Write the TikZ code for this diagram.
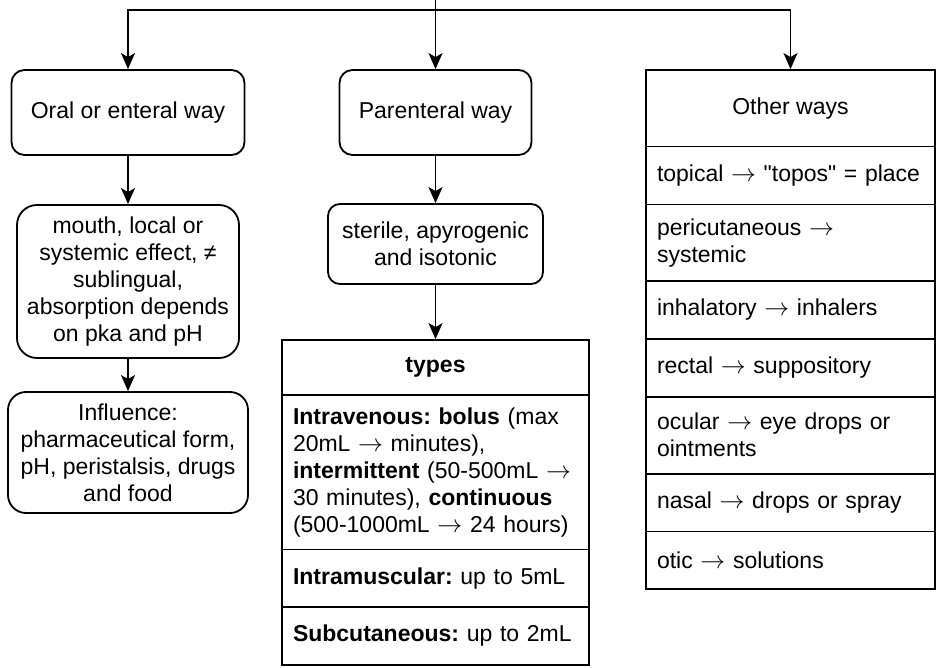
\documentclass[tikz,border=0pt]{standalone}
\usepackage{fontspec}
\setmainfont{Liberation Sans}
\newfontfamily\plainsans{Liberation Sans}
\usetikzlibrary{arrows.meta}
\newcommand{\myarr}{\ensuremath{\rightarrow}}
\tikzset{
  base/.style={draw=black, line width=1.8pt, font=\fontsize{23}{27}\selectfont\frenchspacing, inner sep=0pt},
  rbox/.style={base, align=center},
  rowl/.style={base, align=left, inner xsep=11pt, anchor=center},
  rowc/.style={base, align=center},
  arr/.style={line width=1.8pt, -{Stealth[length=16pt,width=14pt,inset=4pt]}},
}
\begin{document}
\begin{tikzpicture}[x=1pt,y=-1pt]
\useasboundingbox (0,0) rectangle (942,668);

% left column
\node[rbox, minimum width=233pt, minimum height=85pt, rounded corners=13pt] (oral) at (128,112.5) {Oral or enteral way};
\node[rbox, minimum width=222pt, minimum height=153pt, rounded corners=20pt] (mouth) at (128,281.5) {mouth, local or\\systemic effect, ≠\\sublingual,\\absorption depends\\on pka and pH};
\node[rbox, minimum width=240pt, minimum height=121pt, rounded corners=18pt] (infl) at (128,452.5) {Influence:\\pharmaceutical form,\\pH, peristalsis, drugs\\and food};

% middle column
\node[rbox, minimum width=192pt, minimum height=85pt, rounded corners=13pt] (par) at (435.5,112.5) {Parenteral way};
\node[rbox, minimum width=215pt, minimum height=80pt, rounded corners=12pt] (ster) at (435.5,244) {sterile, apyrogenic\\and isotonic};

\node[rowc, minimum width=307pt, minimum height=55pt] (thead) at (435.5,367.5) {\textbf{types}};
\node[rowl, text width=285pt, minimum height=154.5pt] (tiv) at (435.5,472.25) {\textbf{Intravenous: bolus} (max\\20mL \myarr{} minutes),\\\textbf{intermittent} (50-500mL \myarr\\30 minutes), \textbf{continuous}\\(500-1000mL \myarr{} 24 hours)};
\node[rowl, text width=285pt, minimum height=57.5pt] (tim) at (435.5,578.25) {\textbf{Intramuscular:} up to 5mL};
\node[rowl, text width=285pt, minimum height=58pt] (tsc) at (435.5,636) {\textbf{Subcutaneous:} up to 2mL};

% right column
\node[rowc, minimum width=289pt, minimum height=76.6pt] (ohead) at (790.5,108.3) {Other ways};
\node[rowl, text width=267pt, minimum height=58pt] (o1) at (790.5,175.6) {topical \myarr{} {\plainsans"topos"} = place};
\node[rowl, text width=267pt, minimum height=76.4pt] (o2) at (790.5,242.8) {pericutaneous \myarr\\systemic};
\node[rowl, text width=267pt, minimum height=57.8pt] (o3) at (790.5,309.9) {inhalatory \myarr{} inhalers};
\node[rowl, text width=267pt, minimum height=58pt] (o4) at (790.5,367.8) {rectal \myarr{} suppository};
\node[rowl, text width=267pt, minimum height=76.9pt] (o5) at (790.5,435.25) {ocular \myarr{} eye drops or\\ointments};
\node[rowl, text width=267pt, minimum height=57.7pt] (o6) at (790.5,502.55) {nasal \myarr{} drops or spray};
\node[rowl, text width=267pt, minimum height=57.6pt] (o7) at (790.5,560.2) {otic \myarr{} solutions};

% connectors
\coordinate (src) at (435.5,0);
\coordinate (bus) at (0,10);
\draw[arr] (src) -- (src |- bus) -| (oral.north);
\draw[arr] (src) -- (src |- bus) -| (ohead.north);
\draw[arr] (src) -- (par.north);
\draw[arr] (oral.south) -- (mouth.north);
\draw[arr] (mouth.south) -- (infl.north);
\draw[arr] (par.south) -- (ster.north);
\draw[arr] (ster.south) -- (thead.north);
\end{tikzpicture}
\end{document}
